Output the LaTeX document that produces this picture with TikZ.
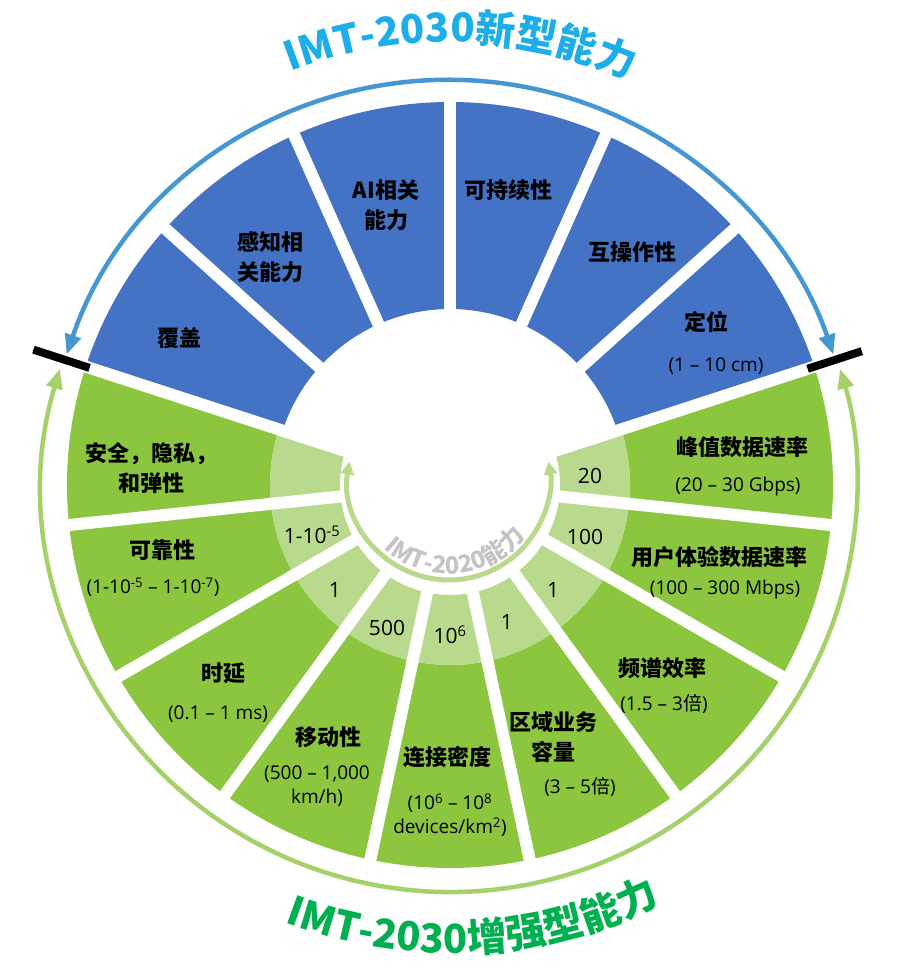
\documentclass[tikz,border=0pt]{standalone}
\usepackage{fontspec}
\usepackage{tikz}
\usetikzlibrary{decorations.text,arrows.meta,calc}
\setmainfont{Open Sans}
\newfontfamily\cjk{Noto Sans CJK SC}
\newcommand{\ROUT}{383pt}
\newcommand{\RBLUE}{176pt}
\newcommand{\RLIGHT}{180pt}
\newcommand{\RIN}{110pt}
\newcommand{\GAPW}{12pt}
\newcommand{\LINEPT}{4.5pt}
\newcommand{\TITLEA}{\cjk\bfseries\fontsize{40}{40}\selectfont\color{titleblue}}
\newcommand{\TITLEB}{\cjk\bfseries\fontsize{40}{40}\selectfont\color{titlegreen}}
\newcommand{\TITLEC}{\cjk\bfseries\fontsize{24}{24}\selectfont\color{ringgray}}
\definecolor{segblue}{HTML}{4472C4}
\definecolor{seggreen}{HTML}{8CC63F}
\definecolor{seglight}{HTML}{B9DA8D}
\definecolor{arrowblue}{HTML}{4597D3}
\definecolor{arrowgreen}{HTML}{A6D06A}
\definecolor{titleblue}{HTML}{1DAEEA}
\definecolor{titlegreen}{HTML}{00B050}
\definecolor{ringgray}{HTML}{C4C4C4}

\begin{document}
\begin{tikzpicture}[
	head/.style={font=\cjk\bfseries\fontsize{22}{30}\selectfont, align=center, inner sep=0pt},
	val/.style={font=\fontsize{19}{24}\selectfont, align=center, inner sep=0pt},
	ringval/.style={font=\fontsize{21}{24}\selectfont, inner sep=0pt},
	gap/.style={color=white, line width=\GAPW},
	bar/.style={color=black, line width=8pt},
	bigtip/.style={{Triangle[length=20pt,width=16pt]}-{Triangle[length=20pt,width=16pt]}},
	smalltip/.style={{Triangle[length=13pt,width=13pt]}-{Triangle[length=13pt,width=13pt]}}
]
	\useasboundingbox (-450pt,-488pt) rectangle (447pt,485pt);

		%%

		\coordinate (o1) at (0,0);
		\coordinate (o2) at (-1pt,6pt);

		%% blue ring
		\foreach \i in {0,...,5}{
			\pgfmathsetmacro{\A}{162-24*\i}
			\pgfmathsetmacro{\B}{\A-24}
			\fill[segblue] (\A:\RBLUE) arc(\A:\B:\RBLUE) -- (\B:\ROUT) arc(\B:\A:\ROUT) -- cycle;
		}

		%% green ring
		\foreach \i in {0,...,8}{
			\pgfmathsetmacro{\A}{18-24*\i}
			\pgfmathsetmacro{\B}{\A-24}
			\fill[seggreen] (\A:\RLIGHT) arc(\A:\B:\RLIGHT) -- (\B:\ROUT) arc(\B:\A:\ROUT) -- cycle;
			\fill[seglight] (\A:\RIN) arc(\A:\B:\RIN) -- (\B:\RLIGHT) arc(\B:\A:\RLIGHT) -- cycle;
		}

		\foreach \a in {18,42,...,354}
			\draw[gap] (o1) -- (\a:395pt);

		\draw[bar] (162:379pt) -- (162:438pt);
		\draw[bar] (18:376pt) -- (18:433pt);

		%% arrows
		\draw[arrowblue, line width=\LINEPT, bigtip] (161.2:405pt) arc(161.2:18.8:405pt);
		\draw[arrowgreen, line width=\LINEPT, bigtip] (163.4:407pt) arc(163.4:376.6:407pt);
		\draw[seglight, line width=5pt, smalltip] ($(o2)+(170:101pt)$) arc(170:370:101pt);

		%% titles
		\path[decorate, decoration={text along path, text align=center, text={|\TITLEA|IMT-2030新型能力}}] (128.6:443pt) arc(128.6:48.6:443pt);
		\path[decorate, decoration={text along path, text align=center, text={|\TITLEB|IMT-2030增强型能力}}] (-132:468pt) arc(-132:-42:468pt);
		\path[decorate, decoration={text along path, text align=center, text={|\TITLEC|IMT-2020能力}}] ($(o2)+(-137:95pt)$) arc(-137:-33:95pt);

		%% blue labels
		\node[head] (cover) at (-270pt,147pt) {覆盖};
		\node[head] (sense) at (-179pt,228pt) {感知相\\关能力};
		\node[head] (ai) at (-64pt,280pt) {AI相关\\能力};
		\node[head] (sustain) at (58pt,295pt) {可持续性};
		\node[head] (interop) at (182pt,233pt) {互操作性};
		\node[head] (posit) at (256pt,163pt) {定位};
		\node[val] (positv) at (266pt,119pt) {(1 – 10 cm)};

		%% green labels
		\node[head] (peak) at (292pt,38pt) {峰值数据速率};
		\node[val] (peakv) at (288pt,-2pt) {(20 – 30 Gbps)};
		\node[ringval] (peakr) at (140pt,9pt) {20};

		\node[head] (user) at (269pt,-72pt) {用户体验数据速率};
		\node[val] (userv) at (275pt,-105pt) {(100 – 300 Mbps)};
		\node[ringval] (userr) at (135pt,-52pt) {100};

		\node[head] (spec) at (212pt,-183pt) {频谱效率};
		\node[val] (specv) at (214pt,-219pt) {(1.5 – 3{\cjk 倍})};
		\node[ringval] (specr) at (103pt,-105pt) {1};

		\node[head] (area) at (103pt,-252pt) {区域业务\\容量};
		\node[val] (areav) at (130pt,-302pt) {(3 – 5{\cjk 倍})};
		\node[ringval] (arear) at (57pt,-137pt) {1};

		\node[head] (conn) at (-3pt,-272pt) {连接密度};
		\node[val] (connv) at (0pt,-330pt) {(10\textsuperscript{6} – 10\textsuperscript{8}\\devices/km\textsuperscript{2})};
		\node[ringval] (connr) at (0pt,-150pt) {10\textsuperscript{6}};

		\node[head] (mob) at (-121pt,-252pt) {移动性};
		\node[val] (mobv) at (-133pt,-301pt) {(500 – 1,000\\km/h)};
		\node[ringval] (mobr) at (-63pt,-143pt) {500};

		\node[head] (lat) at (-226pt,-188pt) {时延};
		\node[val] (latv) at (-232pt,-229pt) {(0.1 – 1 ms)};
		\node[ringval] (latr) at (-115pt,-105pt) {1};

		\node[head] (rel) at (-287pt,-65pt) {可靠性};
		\node[val] (relv) at (-297pt,-102pt) {(1-10\textsuperscript{-5} – 1-10\textsuperscript{-7})};
		\node[ringval] (relr) at (-138pt,-50pt) {1-10\textsuperscript{-5}};

		\node[head] (sec) at (-298pt,17pt) {安全，隐私，\\和弹性};

\end{tikzpicture}
\end{document}
